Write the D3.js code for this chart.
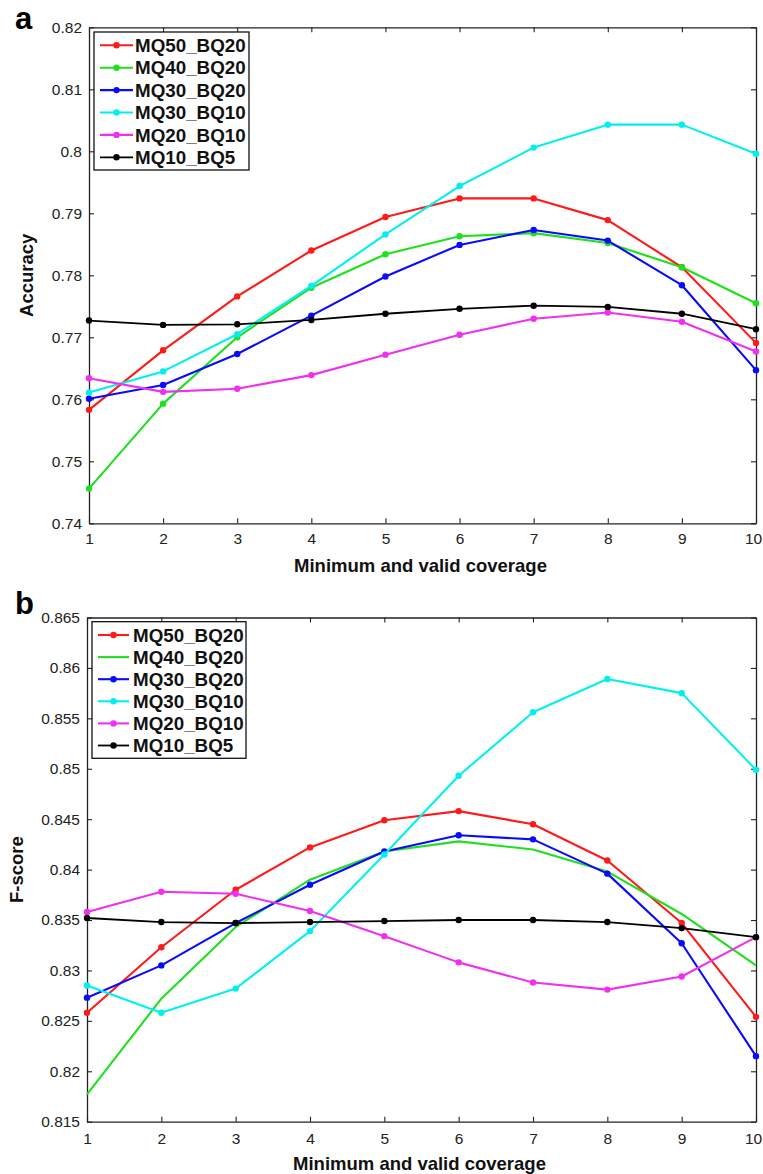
<!DOCTYPE html>
<html>
<head>
<meta charset="utf-8">
<script src="https://cdn.jsdelivr.net/npm/d3@7"></script>
<style>
  html, body { margin: 0; padding: 0; background: #fff; }
  svg { display: block; font-family: "Liberation Sans", Arial, sans-serif; }
</style>
</head>
<body>
<svg id="chart" width="763" height="1174"></svg>
<script>
// ---------- data ----------
const coverage = [1, 2, 3, 4, 5, 6, 7, 8, 9, 10];
const seriesNames = ["MQ50_BQ20", "MQ40_BQ20", "MQ30_BQ20", "MQ30_BQ10", "MQ20_BQ10", "MQ10_BQ5"];
const seriesColors = ["#ff1a1a", "#1ee01e", "#0a0aff", "#00f0f0", "#f030f0", "#000000"];

// panel a: Accuracy
const accMQ50_BQ20 = [0.7583, 0.7679, 0.7766, 0.7840, 0.7894, 0.7924, 0.7924, 0.7889, 0.7813, 0.7691];
const accMQ40_BQ20 = [0.7456, 0.7593, 0.7700, 0.7780, 0.7834, 0.7863, 0.7868, 0.7852, 0.7813, 0.7755];
const accMQ30_BQ20 = [0.7601, 0.7623, 0.7673, 0.7735, 0.7798, 0.7849, 0.7873, 0.7856, 0.7784, 0.7647];
const accMQ30_BQ10 = [0.7611, 0.7645, 0.7705, 0.7783, 0.7866, 0.7944, 0.8006, 0.8043, 0.8043, 0.7996];
const accMQ20_BQ10 = [0.7634, 0.7612, 0.7617, 0.7639, 0.7672, 0.7704, 0.7730, 0.7740, 0.7725, 0.7677];
const accMQ10_BQ5  = [0.7727, 0.7720, 0.7721, 0.7728, 0.7738, 0.7746, 0.7751, 0.7749, 0.7738, 0.7713];

// panel b: F-score
const fMQ50_BQ20 = [0.8258, 0.8323, 0.8380, 0.8422, 0.8449, 0.8458, 0.8445, 0.8409, 0.8347, 0.8254];
const fMQ40_BQ20 = [0.8177, 0.8272, 0.8343, 0.8390, 0.8418, 0.8428, 0.8420, 0.8398, 0.8356, 0.8305];
const fMQ30_BQ20 = [0.8273, 0.8305, 0.8347, 0.8385, 0.8418, 0.8434, 0.8430, 0.8396, 0.8327, 0.8215];
const fMQ30_BQ10 = [0.8285, 0.8258, 0.8282, 0.8339, 0.8415, 0.8493, 0.8556, 0.8589, 0.8575, 0.8499];
const fMQ20_BQ10 = [0.8358, 0.8378, 0.8376, 0.8359, 0.8334, 0.8308, 0.8288, 0.8281, 0.8294, 0.8333];
const fMQ10_BQ5  = [0.8352, 0.8348, 0.8347, 0.8348, 0.8349, 0.8350, 0.8350, 0.8348, 0.8342, 0.8333];

const accYTicks = [0.74, 0.75, 0.76, 0.77, 0.78, 0.79, 0.80, 0.81, 0.82];
const fYTicks = [0.815, 0.82, 0.825, 0.83, 0.835, 0.84, 0.845, 0.85, 0.855, 0.86, 0.865];

// panel b: MQ40_BQ20 drawn without markers
const accMarkers = [true, true, true, true, true, true];
const fMarkers = [true, false, true, true, true, true];

// ---------- drawing ----------
const svg = d3.select("#chart");
const fmt = d => String(+d.toFixed(3));

function panel(cfg) {
  const x = d3.scaleLinear().domain([1, 10]).range([cfg.left, cfg.right]);
  const y = d3.scaleLinear().domain(cfg.yDomain).range([cfg.bottom, cfg.top]);
  const g = svg.append("g");

  // axes (box with inward ticks)
  const tickLen = 5;
  g.append("g").attr("transform", `translate(0,${cfg.bottom})`)
    .call(d3.axisBottom(x).tickValues(coverage).tickFormat(d3.format("d"))
      .tickSizeInner(-tickLen).tickSizeOuter(0).tickPadding(cfg.xPad))
    .call(a => a.selectAll("text").attr("font-size", 15.5).attr("fill", "#222")
      .attr("font-family", "Liberation Sans, Arial, sans-serif")
      .attr("dx", d => d === 10 ? -3 : 0));
  g.append("g").attr("transform", `translate(0,${cfg.top})`)
    .call(d3.axisTop(x).tickValues(coverage).tickFormat("")
      .tickSizeInner(-tickLen).tickSizeOuter(0));
  g.append("g").attr("transform", `translate(${cfg.left},0)`)
    .call(d3.axisLeft(y).tickValues(cfg.yTicks).tickFormat(fmt)
      .tickSizeInner(-tickLen).tickSizeOuter(0).tickPadding(7))
    .call(a => a.selectAll("text").attr("font-size", 15.5).attr("fill", "#222").attr("font-family", "Liberation Sans, Arial, sans-serif"));
  g.append("g").attr("transform", `translate(${cfg.right},0)`)
    .call(d3.axisRight(y).tickValues(cfg.yTicks).tickFormat("")
      .tickSizeInner(-tickLen).tickSizeOuter(0));
  g.selectAll(".domain").attr("stroke", "#222").attr("stroke-width", 1.3);
  g.selectAll(".tick line").attr("stroke", "#222").attr("stroke-width", 1.1);

  // lines
  const line = d3.line().x((d, i) => x(coverage[i])).y(d => y(d));
  cfg.series.forEach((vals, si) => {
    g.append("path").datum(vals)
      .attr("fill", "none")
      .attr("stroke", seriesColors[si])
      .attr("stroke-width", si === 5 ? 1.8 : 2.1)
      .attr("stroke-linejoin", "round")
      .attr("d", line);
    if (cfg.markers[si]) {
      g.append("g").selectAll("circle").data(vals).join("circle")
        .attr("cx", (d, i) => x(coverage[i]))
        .attr("cy", d => y(d))
        .attr("r", 3.2)
        .attr("fill", seriesColors[si]);
    }
  });

  // legend
  const lg = g.append("g");
  lg.append("rect")
    .attr("x", cfg.legend.x0).attr("y", cfg.legend.y0)
    .attr("width", cfg.legend.x1 - cfg.legend.x0)
    .attr("height", cfg.legend.y1 - cfg.legend.y0)
    .attr("fill", "#fff").attr("stroke", "#111").attr("stroke-width", 1.3);
  seriesNames.forEach((name, si) => {
    const ry = cfg.legend.row0 + si * cfg.legend.rowStep;
    lg.append("line")
      .attr("x1", cfg.legend.lx0).attr("x2", cfg.legend.lx1)
      .attr("y1", ry).attr("y2", ry)
      .attr("stroke", seriesColors[si]).attr("stroke-width", si === 5 ? 1.8 : 2.1);
    if (cfg.markers[si]) {
      lg.append("circle").attr("cx", (cfg.legend.lx0 + cfg.legend.lx1) / 2).attr("cy", ry)
        .attr("r", 3.2).attr("fill", seriesColors[si]);
    }
    lg.append("text")
      .attr("x", cfg.legend.tx).attr("y", ry).attr("dy", "0.36em")
      .attr("font-size", 18.8).attr("font-weight", "bold").attr("fill", "#111")
      .text(name);
  });

  // titles
  g.append("text")
    .attr("x", (cfg.left + cfg.right) / 2 - 2).attr("y", cfg.xTitleY)
    .attr("text-anchor", "middle").attr("font-size", 18.5).attr("font-weight", "bold").attr("fill", "#111")
    .text("Minimum and valid coverage");
  g.append("text")
    .attr("transform", `translate(${cfg.yTitleX},${(cfg.top + cfg.bottom) / 2}) rotate(-90)`)
    .attr("text-anchor", "middle").attr("font-size", 18.5).attr("font-weight", "bold").attr("fill", "#111")
    .text(cfg.yTitle);
  g.append("text")
    .attr("x", cfg.letterX).attr("y", cfg.letterY)
    .attr("font-size", 31).attr("font-weight", "bold").attr("fill", "#000")
    .text(cfg.letter);
}

panel({
  left: 89, right: 756, top: 27.3, bottom: 523.3,
  yDomain: [0.74, 0.82], yTicks: accYTicks,
  series: [accMQ50_BQ20, accMQ40_BQ20, accMQ30_BQ20, accMQ30_BQ10, accMQ20_BQ10, accMQ10_BQ5],
  markers: accMarkers,
  xPad: 10,
  legend: { x0: 94, x1: 249, y0: 32, y1: 170, row0: 45.3, rowStep: 22.4, lx0: 100, lx1: 133, tx: 135 },
  xTitleY: 571.5, yTitleX: 33, yTitle: "Accuracy",
  letter: "a", letterX: 15, letterY: 28.5
});

panel({
  left: 87, right: 756, top: 617.5, bottom: 1121.7,
  yDomain: [0.815, 0.865], yTicks: fYTicks,
  series: [fMQ50_BQ20, fMQ40_BQ20, fMQ30_BQ20, fMQ30_BQ10, fMQ20_BQ10, fMQ10_BQ5],
  markers: fMarkers,
  xPad: 11,
  legend: { x0: 92, x1: 246, y0: 621.7, y1: 758.3, row0: 635, rowStep: 22.1, lx0: 98, lx1: 129, tx: 133 },
  xTitleY: 1170, yTitleX: 22.5, yTitle: "F-score",
  letter: "b", letterX: 15, letterY: 613.5
});
</script>
</body>
</html>
